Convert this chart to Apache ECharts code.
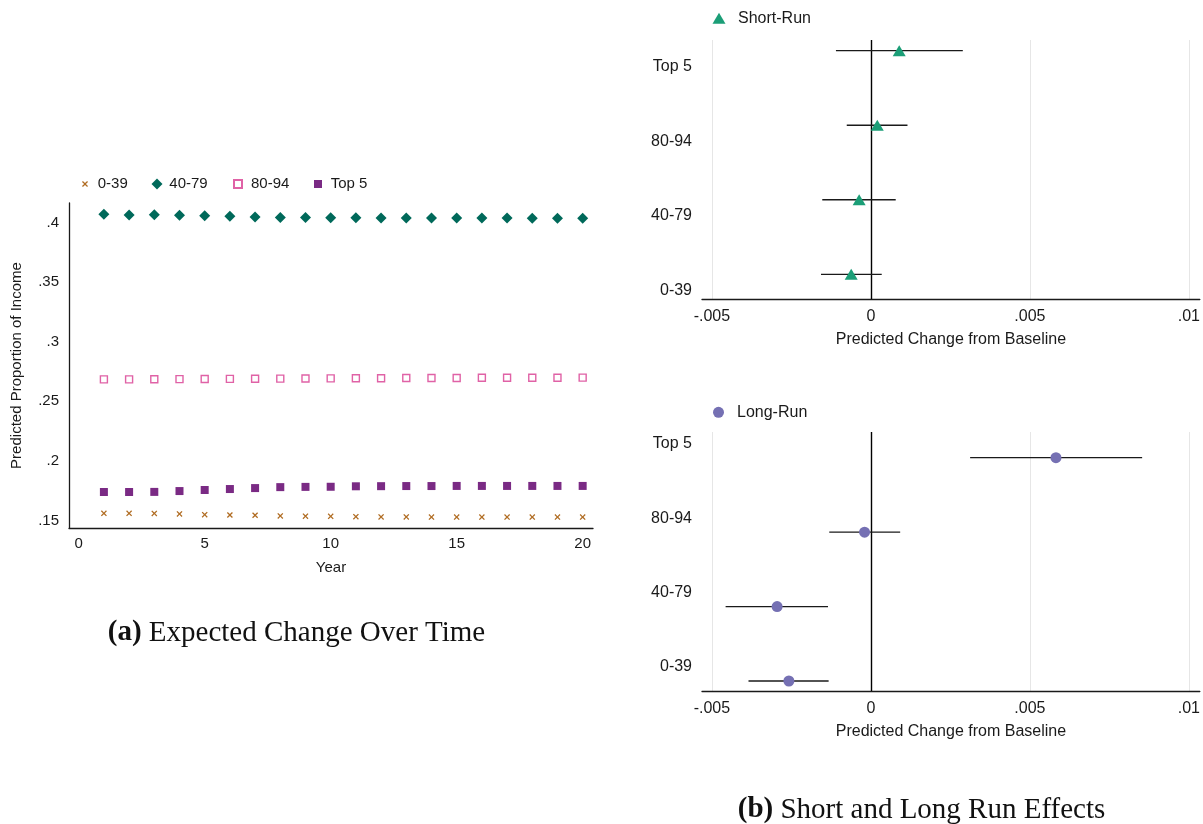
<!DOCTYPE html>
<html><head><meta charset="utf-8">
<script src="https://cdn.jsdelivr.net/npm/echarts@6/dist/echarts.min.js"></script>
<style>html,body{margin:0;padding:0;background:#fff}#c{width:1203px;height:824px}</style>
</head><body><div id="c"></div>
<script>
// ---------- data: panel (a) ----------
const years = [1,2,3,4,5,6,7,8,9,10,11,12,13,14,15,16,17,18,19,20];
const s039  = [0.1560,0.1560,0.1559,0.1555,0.1549,0.1546,0.1544,0.1538,0.1536,0.1535,0.1532,0.1530,0.1530,0.1529,0.1529,0.1529,0.1529,0.1529,0.1529,0.1529];
const s4079 = [0.4069,0.4062,0.4065,0.4060,0.4056,0.4052,0.4046,0.4043,0.4042,0.4040,0.4039,0.4038,0.4038,0.4038,0.4038,0.4037,0.4037,0.4036,0.4036,0.4035];
const s8094 = [0.2684,0.2684,0.2685,0.2686,0.2687,0.2688,0.2689,0.2690,0.2691,0.2692,0.2693,0.2694,0.2695,0.2695,0.2696,0.2697,0.2697,0.2698,0.2698,0.2699];
const sTop5 = [0.1739,0.1739,0.1740,0.1747,0.1756,0.1764,0.1772,0.1780,0.1782,0.1783,0.1787,0.1788,0.1789,0.1789,0.1790,0.1790,0.1790,0.1790,0.1790,0.1790];
const xTickValues = [0,5,10,15,20];
const yTickValues = [0.15,0.2,0.25,0.3,0.35,0.4];
const yTickLabels = ['.15','.2','.25','.3','.35','.4'];

// ---------- data: panel (b) ----------
const groups = ['0-39','40-79','80-94','Top 5'];
const srEst = [-0.00062,-0.00037, 0.00020, 0.00089];
const srLo  = [-0.00157,-0.00153,-0.00076,-0.00110];
const srHi  = [ 0.00034, 0.00078, 0.00115, 0.00289];
const lrEst = [-0.00258,-0.00295,-0.00020, 0.00582];
const lrLo  = [-0.00385,-0.00457,-0.00131, 0.00312];
const lrHi  = [-0.00133,-0.00135, 0.00092, 0.00853];
const fxTickValues = [-0.005,0,0.005,0.01];
const fxTickLabels = ['-.005','0','.005','.01'];

const FONT = '"Liberation Sans", Arial, Helvetica, sans-serif';
const SERIF = '"Liberation Serif", "Times New Roman", serif';
const INK = '#1a1a1a';
const C039 = '#b06c22', C4079 = '#00695a', C8094 = '#e062a6', CTOP = '#7a2a84';
const CSR = '#1b9e77', CLR = '#7570b3';
const XPATH = 'path://M0,1.5L1.5,0L5,3.5L8.5,0L10,1.5L6.5,5L10,8.5L8.5,10L5,6.5L1.5,10L0,8.5L3.5,5Z';

const rows = groups.map((g,i)=>i+1);
const nearestLabel = (vals, labs) => v => { let k=0,b=Infinity; vals.forEach((t,i)=>{const d=Math.abs(t-v); if(d<b){b=d;k=i;}}); return labs[k]; };

function forestX(grid){
  return {gridIndex:grid, type:'value', min:-0.0053125, max:0.0103438,
    axisLine:{show:true,onZero:false,lineStyle:{color:INK,width:1.3}},
    axisTick:{show:false,customValues:fxTickValues},
    axisLabel:{customValues:fxTickValues, formatter:nearestLabel(fxTickValues,fxTickLabels), margin:10, fontSize:16, color:INK, fontFamily:FONT},
    splitLine:{show:true,lineStyle:{color:'#e6e6e6',width:1}},
    name:'Predicted Change from Baseline', nameLocation:'middle', nameGap:33,
    nameTextStyle:{fontSize:16,color:INK,fontFamily:FONT}};
}
function forestY(grid,min,max,offset){
  const cv = rows.map(r=>r+offset);
  return {gridIndex:grid, type:'value', min:min, max:max,
    axisLine:{show:false,onZero:false}, axisTick:{show:false,customValues:cv}, splitLine:{show:false},
    axisLabel:{customValues:cv, formatter:v=>groups[Math.round(v)-1], margin:10, fontSize:16, color:INK, fontFamily:FONT}};
}
function ciSeries(name,grid,lo,hi){
  return {name:name, type:'custom', xAxisIndex:grid, yAxisIndex:grid, silent:true, z:2,
    data: rows.map((r,i)=>[r,lo[i],hi[i]]),
    encode:{x:[1,2],y:0},
    renderItem:(params,api)=>{
      const y=api.value(0), a=api.coord([api.value(1),y]), b=api.coord([api.value(2),y]);
      return {type:'line',shape:{x1:a[0],y1:a[1],x2:b[0],y2:b[1]},style:{stroke:INK,lineWidth:1.3}};
    }};
}
function leg(name,left,top,w,h,pad,fs){
  return {data:[name], left:left, top:top, itemWidth:w, itemHeight:h, selectedMode:false, padding:0,
    textStyle:{fontSize:fs,color:INK,fontFamily:FONT,padding:[0,0,0,pad]}};
}

const option = {
  animation:false,
  backgroundColor:'#fff',
  legend:[
    leg('0-39',82,176.5,6,6,4.7,15),
    leg('40-79',151.5,176.5,11,11,1.8,15),
    leg('80-94',233,176.5,8,8,4,15),
    leg('Top 5',314,176.5,8,8,3.7,15),
    leg('Short-Run',712.5,10.3,13,11,7.5,16),
    leg('Long-Run',713,404.3,11,11,8,16)
  ],
  grid:[
    {left:69, top:203, width:524, height:325},
    {left:702, top:40, width:501, height:259},
    {left:702, top:432, width:501, height:259}
  ],
  xAxis:[
    {gridIndex:0, type:'value', min:-0.385, max:20.41,
      axisLine:{show:true,onZero:false,lineStyle:{color:INK,width:1.3}},
      axisTick:{show:false,customValues:xTickValues},
      axisLabel:{customValues:xTickValues, margin:8.5, fontSize:15, color:INK, fontFamily:FONT},
      splitLine:{show:false},
      name:'Year', nameLocation:'middle', nameGap:32.5, nameTextStyle:{fontSize:15,color:INK,fontFamily:FONT}},
    forestX(1), forestX(2)
  ],
  yAxis:[
    {gridIndex:0, type:'value', min:0.14371, max:0.41636,
      axisLine:{show:true,onZero:false,lineStyle:{color:INK,width:1.3}},
      axisTick:{show:false,customValues:yTickValues},
      axisLabel:{customValues:yTickValues, formatter:nearestLabel(yTickValues,yTickLabels), margin:10, fontSize:15, color:INK, fontFamily:FONT},
      splitLine:{show:false},
      name:'Predicted Proportion of Income', nameLocation:'middle', nameGap:45, nameRotate:90,
      nameTextStyle:{fontSize:15,color:INK,fontFamily:FONT}},
    forestY(1,0.6686,4.1436,-0.215),
    forestY(2,0.8656,4.3453,0.187)
  ],
  series:[
    {name:'0-39', type:'scatter', xAxisIndex:0, yAxisIndex:0, symbol:XPATH, symbolSize:6,
      itemStyle:{color:C039,opacity:1}, data:years.map((y,i)=>[y,s039[i]]), silent:true},
    {name:'40-79', type:'scatter', xAxisIndex:0, yAxisIndex:0, symbol:'diamond', symbolSize:11,
      itemStyle:{color:C4079,opacity:1}, data:years.map((y,i)=>[y,s4079[i]]), silent:true},
    {name:'80-94', type:'scatter', xAxisIndex:0, yAxisIndex:0, symbol:'rect', symbolSize:7,
      itemStyle:{color:'#fff',borderColor:C8094,borderWidth:1.4,opacity:1}, data:years.map((y,i)=>[y,s8094[i]]), silent:true},
    {name:'Top 5', type:'scatter', xAxisIndex:0, yAxisIndex:0, symbol:'rect', symbolSize:8,
      itemStyle:{color:CTOP,opacity:1}, data:years.map((y,i)=>[y,sTop5[i]]), silent:true},
    ciSeries('srCI',1,srLo,srHi),
    {name:'Short-Run', type:'scatter', xAxisIndex:1, yAxisIndex:1, symbol:'triangle', symbolSize:[13,11], z:3,
      itemStyle:{color:CSR,opacity:1}, data:rows.map((r,i)=>[srEst[i],r]), silent:true,
      markLine:{silent:true, symbol:'none', label:{show:false}, lineStyle:{color:'#000',width:1.4,type:'solid'}, data:[{xAxis:0}], z:1}},
    ciSeries('lrCI',2,lrLo,lrHi),
    {name:'Long-Run', type:'scatter', xAxisIndex:2, yAxisIndex:2, symbol:'circle', symbolSize:11, z:3,
      itemStyle:{color:CLR,opacity:1}, data:rows.map((r,i)=>[lrEst[i],r]), silent:true,
      markLine:{silent:true, symbol:'none', label:{show:false}, lineStyle:{color:'#000',width:1.4,type:'solid'}, data:[{xAxis:0}], z:1}}
  ],
  graphic:[
    {type:'text', x:296.5, y:633, silent:true, style:{text:'{b|(a)} Expected Change Over Time', align:'center', verticalAlign:'middle',
      fontSize:29, fontFamily:SERIF, fill:'#111', rich:{b:{fontWeight:'bold',fontSize:29,fontFamily:SERIF}}}},
    {type:'text', x:921.5, y:810, silent:true, style:{text:'{b|(b)} Short and Long Run Effects', align:'center', verticalAlign:'middle',
      fontSize:29, fontFamily:SERIF, fill:'#111', rich:{b:{fontWeight:'bold',fontSize:29,fontFamily:SERIF}}}}
  ]
};
const chart = echarts.init(document.getElementById('c'), null, {renderer:'canvas'});
chart.setOption(option);
</script>
</body></html>
